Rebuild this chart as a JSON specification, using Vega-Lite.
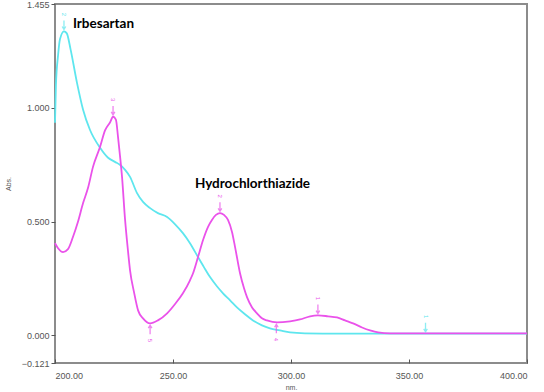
{
  "$schema": "https://vega.github.io/schema/vega-lite/v6.json",
  "width": 472,
  "height": 359,
  "autosize": "none",
  "padding": {"left": 55, "top": 4, "right": 17, "bottom": 29},
  "background": "white",
  "config": {
    "view": {"stroke": "#8c8c8c", "strokeWidth": 2},
    "axis": {
      "grid": false,
      "domain": false,
      "labelFont": "Liberation Sans",
      "labelFontSize": 9,
      "labelColor": "#555",
      "tickColor": "#555",
      "titleFont": "Liberation Sans",
      "titleFontSize": 7,
      "titleFontWeight": "normal",
      "titleColor": "#555"
    }
  },
  "datasets": {
    "spectra": [
      {"compound": "Irbesartan", "nm": 200.0, "abs": 0.934},
      {"compound": "Irbesartan", "nm": 200.4, "abs": 1.10},
      {"compound": "Irbesartan", "nm": 201.3, "abs": 1.23},
      {"compound": "Irbesartan", "nm": 202.1, "abs": 1.30},
      {"compound": "Irbesartan", "nm": 203.8, "abs": 1.335},
      {"compound": "Irbesartan", "nm": 205.0, "abs": 1.326},
      {"compound": "Irbesartan", "nm": 206.6, "abs": 1.256},
      {"compound": "Irbesartan", "nm": 209.3, "abs": 1.11},
      {"compound": "Irbesartan", "nm": 211.9, "abs": 0.991},
      {"compound": "Irbesartan", "nm": 214.8, "abs": 0.903},
      {"compound": "Irbesartan", "nm": 219.1, "abs": 0.824},
      {"compound": "Irbesartan", "nm": 222.5, "abs": 0.78},
      {"compound": "Irbesartan", "nm": 225.4, "abs": 0.762},
      {"compound": "Irbesartan", "nm": 227.5, "abs": 0.749},
      {"compound": "Irbesartan", "nm": 229.7, "abs": 0.727},
      {"compound": "Irbesartan", "nm": 231.8, "abs": 0.696},
      {"compound": "Irbesartan", "nm": 234.7, "abs": 0.626},
      {"compound": "Irbesartan", "nm": 237.3, "abs": 0.586},
      {"compound": "Irbesartan", "nm": 240.3, "abs": 0.559},
      {"compound": "Irbesartan", "nm": 243.6, "abs": 0.537},
      {"compound": "Irbesartan", "nm": 247.5, "abs": 0.520},
      {"compound": "Irbesartan", "nm": 250.8, "abs": 0.489},
      {"compound": "Irbesartan", "nm": 254.2, "abs": 0.449},
      {"compound": "Irbesartan", "nm": 257.2, "abs": 0.405},
      {"compound": "Irbesartan", "nm": 260.6, "abs": 0.344},
      {"compound": "Irbesartan", "nm": 263.1, "abs": 0.300},
      {"compound": "Irbesartan", "nm": 265.7, "abs": 0.256},
      {"compound": "Irbesartan", "nm": 268.6, "abs": 0.216},
      {"compound": "Irbesartan", "nm": 271.2, "abs": 0.185},
      {"compound": "Irbesartan", "nm": 274.2, "abs": 0.154},
      {"compound": "Irbesartan", "nm": 277.1, "abs": 0.123},
      {"compound": "Irbesartan", "nm": 280.5, "abs": 0.093},
      {"compound": "Irbesartan", "nm": 283.9, "abs": 0.066},
      {"compound": "Irbesartan", "nm": 287.7, "abs": 0.044},
      {"compound": "Irbesartan", "nm": 291.1, "abs": 0.031},
      {"compound": "Irbesartan", "nm": 295.3, "abs": 0.022},
      {"compound": "Irbesartan", "nm": 299.6, "abs": 0.013},
      {"compound": "Irbesartan", "nm": 305.9, "abs": 0.009},
      {"compound": "Irbesartan", "nm": 316.5, "abs": 0.008},
      {"compound": "Irbesartan", "nm": 346.2, "abs": 0.008},
      {"compound": "Irbesartan", "nm": 400.0, "abs": 0.008},
      {"compound": "Hydrochlorthiazide", "nm": 200.0, "abs": 0.405},
      {"compound": "Hydrochlorthiazide", "nm": 201.3, "abs": 0.383},
      {"compound": "Hydrochlorthiazide", "nm": 203.4, "abs": 0.366},
      {"compound": "Hydrochlorthiazide", "nm": 205.5, "abs": 0.379},
      {"compound": "Hydrochlorthiazide", "nm": 207.6, "abs": 0.432},
      {"compound": "Hydrochlorthiazide", "nm": 209.7, "abs": 0.498},
      {"compound": "Hydrochlorthiazide", "nm": 211.9, "abs": 0.581},
      {"compound": "Hydrochlorthiazide", "nm": 214.0, "abs": 0.648},
      {"compound": "Hydrochlorthiazide", "nm": 216.1, "abs": 0.740},
      {"compound": "Hydrochlorthiazide", "nm": 219.1, "abs": 0.828},
      {"compound": "Hydrochlorthiazide", "nm": 221.2, "abs": 0.900},
      {"compound": "Hydrochlorthiazide", "nm": 223.3, "abs": 0.935},
      {"compound": "Hydrochlorthiazide", "nm": 224.6, "abs": 0.960},
      {"compound": "Hydrochlorthiazide", "nm": 225.8, "abs": 0.947},
      {"compound": "Hydrochlorthiazide", "nm": 226.7, "abs": 0.872},
      {"compound": "Hydrochlorthiazide", "nm": 227.5, "abs": 0.793},
      {"compound": "Hydrochlorthiazide", "nm": 228.4, "abs": 0.696},
      {"compound": "Hydrochlorthiazide", "nm": 229.7, "abs": 0.507},
      {"compound": "Hydrochlorthiazide", "nm": 230.9, "abs": 0.374},
      {"compound": "Hydrochlorthiazide", "nm": 231.8, "abs": 0.286},
      {"compound": "Hydrochlorthiazide", "nm": 233.5, "abs": 0.189},
      {"compound": "Hydrochlorthiazide", "nm": 235.2, "abs": 0.110},
      {"compound": "Hydrochlorthiazide", "nm": 237.3, "abs": 0.075},
      {"compound": "Hydrochlorthiazide", "nm": 240.3, "abs": 0.053},
      {"compound": "Hydrochlorthiazide", "nm": 243.6, "abs": 0.066},
      {"compound": "Hydrochlorthiazide", "nm": 247.5, "abs": 0.097},
      {"compound": "Hydrochlorthiazide", "nm": 250.8, "abs": 0.137},
      {"compound": "Hydrochlorthiazide", "nm": 254.2, "abs": 0.185},
      {"compound": "Hydrochlorthiazide", "nm": 257.2, "abs": 0.242},
      {"compound": "Hydrochlorthiazide", "nm": 258.5, "abs": 0.273},
      {"compound": "Hydrochlorthiazide", "nm": 260.6, "abs": 0.344},
      {"compound": "Hydrochlorthiazide", "nm": 262.7, "abs": 0.418},
      {"compound": "Hydrochlorthiazide", "nm": 264.8, "abs": 0.476},
      {"compound": "Hydrochlorthiazide", "nm": 266.5, "abs": 0.507},
      {"compound": "Hydrochlorthiazide", "nm": 268.2, "abs": 0.529},
      {"compound": "Hydrochlorthiazide", "nm": 269.9, "abs": 0.537},
      {"compound": "Hydrochlorthiazide", "nm": 271.6, "abs": 0.529},
      {"compound": "Hydrochlorthiazide", "nm": 273.3, "abs": 0.507},
      {"compound": "Hydrochlorthiazide", "nm": 275.0, "abs": 0.454},
      {"compound": "Hydrochlorthiazide", "nm": 276.3, "abs": 0.388},
      {"compound": "Hydrochlorthiazide", "nm": 278.4, "abs": 0.273},
      {"compound": "Hydrochlorthiazide", "nm": 280.1, "abs": 0.207},
      {"compound": "Hydrochlorthiazide", "nm": 281.4, "abs": 0.167},
      {"compound": "Hydrochlorthiazide", "nm": 283.5, "abs": 0.123},
      {"compound": "Hydrochlorthiazide", "nm": 285.6, "abs": 0.097},
      {"compound": "Hydrochlorthiazide", "nm": 287.7, "abs": 0.075},
      {"compound": "Hydrochlorthiazide", "nm": 289.8, "abs": 0.066},
      {"compound": "Hydrochlorthiazide", "nm": 294.1, "abs": 0.057},
      {"compound": "Hydrochlorthiazide", "nm": 299.6, "abs": 0.062},
      {"compound": "Hydrochlorthiazide", "nm": 303.8, "abs": 0.070},
      {"compound": "Hydrochlorthiazide", "nm": 308.1, "abs": 0.084},
      {"compound": "Hydrochlorthiazide", "nm": 311.4, "abs": 0.088},
      {"compound": "Hydrochlorthiazide", "nm": 315.7, "abs": 0.084},
      {"compound": "Hydrochlorthiazide", "nm": 319.5, "abs": 0.079},
      {"compound": "Hydrochlorthiazide", "nm": 322.9, "abs": 0.066},
      {"compound": "Hydrochlorthiazide", "nm": 326.3, "abs": 0.053},
      {"compound": "Hydrochlorthiazide", "nm": 330.1, "abs": 0.035},
      {"compound": "Hydrochlorthiazide", "nm": 333.5, "abs": 0.022},
      {"compound": "Hydrochlorthiazide", "nm": 336.9, "abs": 0.013},
      {"compound": "Hydrochlorthiazide", "nm": 342.0, "abs": 0.009},
      {"compound": "Hydrochlorthiazide", "nm": 400.0, "abs": 0.009}
    ],
    "peaks": [
      {"compound": "Irbesartan", "nm": 203.8, "abs": 1.335, "kind": "peak", "label": "2"},
      {"compound": "Irbesartan", "nm": 357.0, "abs": 0.008, "kind": "peak", "label": "1"},
      {"compound": "Hydrochlorthiazide", "nm": 224.6, "abs": 0.960, "kind": "peak", "label": "3"},
      {"compound": "Hydrochlorthiazide", "nm": 269.9, "abs": 0.537, "kind": "peak", "label": "2"},
      {"compound": "Hydrochlorthiazide", "nm": 311.4, "abs": 0.088, "kind": "peak", "label": "1"},
      {"compound": "Hydrochlorthiazide", "nm": 240.3, "abs": 0.053, "kind": "valley", "label": "5"},
      {"compound": "Hydrochlorthiazide", "nm": 293.8, "abs": 0.057, "kind": "valley", "label": "4"}
    ],
    "notes": [
      {"text": "Irbesartan", "nm": 207.6, "abs": 1.348},
      {"text": "Hydrochlorthiazide", "nm": 259.3, "abs": 0.648}
    ]
  },
  "encoding": {
    "x": {
      "field": "nm", "type": "quantitative",
      "scale": {"domain": [200, 400], "nice": false, "zero": false},
      "axis": {"values": [200, 250, 300, 350, 400], "format": ".2f", "title": "nm.", "tickSize": -4, "labelPadding": 12, "titlePadding": 3}
    },
    "y": {
      "field": "abs", "type": "quantitative",
      "scale": {"domain": [-0.121, 1.455], "nice": false, "zero": false},
      "axis": {"values": [-0.121, 0, 0.5, 1.0, 1.455], "format": ".3f", "title": "Abs.", "tickSize": 4, "labelPadding": 2, "titlePadding": 10}
    },
    "color": {
      "field": "compound", "type": "nominal",
      "scale": {"domain": ["Irbesartan", "Hydrochlorthiazide"], "range": ["#5ee6ee", "#ea52ea"]},
      "legend": null
    }
  },
  "layer": [
    {
      "data": {"name": "spectra"},
      "mark": {"type": "line", "strokeWidth": 1.8, "interpolate": "monotone"}
    },
    {
      "data": {"name": "peaks"},
      "mark": {"type": "point", "filled": false, "strokeWidth": 1.3, "size": 36},
      "encoding": {
        "shape": {
          "field": "kind", "type": "nominal",
          "scale": {"domain": ["peak", "valley"], "range": ["M0,-3.6L0,-0.6M-0.6,-1.6L0,-0.6L0.6,-1.6", "M0,3.6L0,0.6M-0.6,1.6L0,0.6L0.6,1.6"]},
          "legend": null
        }
      }
    },
    {
      "data": {"name": "peaks"},
      "transform": [{"filter": "datum.kind === 'peak'"}],
      "mark": {"type": "text", "fontSize": 6, "angle": 90, "dx": -17, "align": "center", "baseline": "middle", "font": "Liberation Sans"},
      "encoding": {"text": {"field": "label"}}
    },
    {
      "data": {"name": "peaks"},
      "transform": [{"filter": "datum.kind === 'valley'"}],
      "mark": {"type": "text", "fontSize": 6, "angle": 90, "dx": 17, "align": "center", "baseline": "middle", "font": "Liberation Sans"},
      "encoding": {"text": {"field": "label"}}
    },
    {
      "data": {"name": "notes"},
      "mark": {"type": "text", "font": "Lato", "fontWeight": "bold", "fontSize": 13.5, "align": "left", "baseline": "alphabetic", "color": "black"},
      "encoding": {"text": {"field": "text"}, "color": {"value": "black"}}
    }
  ]
}
